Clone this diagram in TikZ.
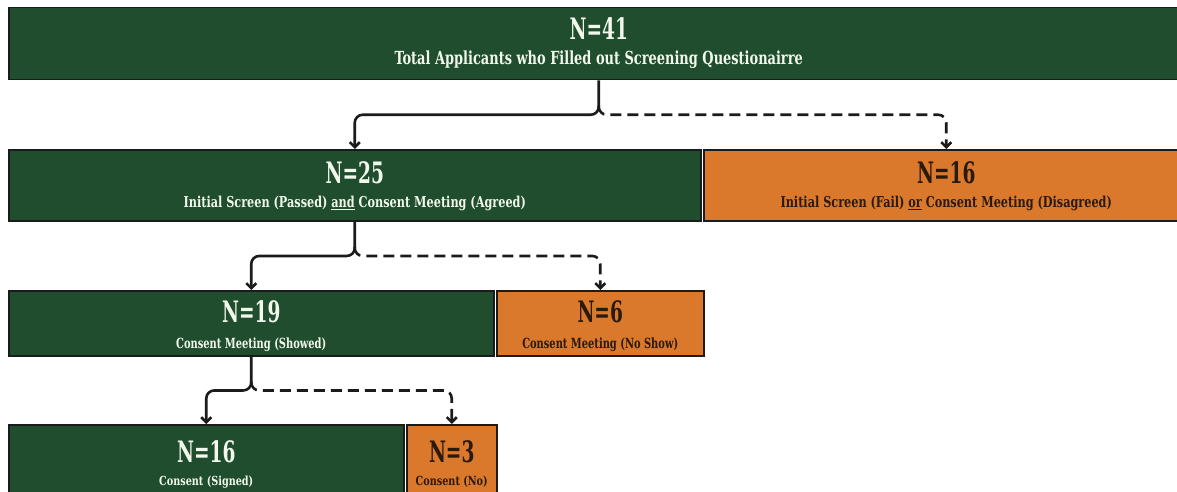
\documentclass[tikz,border=0pt]{standalone}
\usepackage{fontspec}
\setmainfont{DejaVu Serif Condensed}
\usetikzlibrary{arrows.meta,positioning,calc}
\definecolor{forest}{HTML}{1F4D2D}
\definecolor{pumpkin}{HTML}{DA782C}
\definecolor{inkline}{HTML}{1B1B1B}
\definecolor{paletext}{HTML}{F2F8EC}
\definecolor{darktext}{HTML}{2A1A0C}
% count line: #1 = room above the baseline, #2 = count
\newcommand{\bignum}[2]{\vrule height #1 depth 0pt width 0pt{\fontsize{29.5}{32}\selectfont\scalebox{0.7}[1]{#2}}}
% sub line: #1 height, #2 depth, #3 size, #4 squeeze, #5 text
\newcommand{\subtext}[5]{\vrule height #1 depth #2 width 0pt{\fontsize{#3}{#3}\selectfont\scalebox{#4}[1]{#5}}}

\begin{document}
\begin{tikzpicture}[x=1pt,y=-1pt,font=\bfseries,
  pass/.style={draw=inkline,line width=1.5pt,fill=forest,text=paletext,anchor=north west,align=center,inner sep=0pt},
  drop/.style={pass,fill=pumpkin,text=darktext},
  link/.style={-{Straight Barb[length=5pt,width=10pt]},line width=2.6pt,inkline,rounded corners=8pt},
  dlink/.style={link,dash pattern=on 11pt off 6pt}]
\useasboundingbox[fill=white] (0,0) rectangle (1177,492);
% boxes
\node[pass,minimum width=1180pt,minimum height=72pt] (n41) at (8,7)
  {\bignum{32pt}{N=41}\\\subtext{24pt}{15pt}{18}{0.8}{Total Applicants who Filled out Screening Questionairre}};
\node[pass,minimum width=692pt,minimum height=71pt] (n25) at (8,149)
  {\bignum{34pt}{N=25}\\\subtext{22pt}{14pt}{15}{0.835}{Initial Screen (Passed) \underline{and} Consent Meeting (Agreed)}};
\node[drop,minimum width=485pt,minimum height=71pt,right=1.5pt of n25] (n16a)
  {\bignum{34pt}{N=16}\\\subtext{22pt}{14pt}{15}{0.835}{Initial Screen (Fail) \underline{or} Consent Meeting (Disagreed)}};
\node[pass,minimum width=485pt,minimum height=65pt] (n19) at (8,290)
  {\bignum{32pt}{N=19}\\\subtext{24pt}{8pt}{14}{0.785}{Consent Meeting (Showed)}};
\node[drop,minimum width=207pt,minimum height=65pt,right=1.5pt of n19] (n6)
  {\bignum{32pt}{N=6}\\\subtext{24pt}{8pt}{14}{0.785}{Consent Meeting (No Show)}};
\node[pass,minimum width=395pt,minimum height=72pt] (n16b) at (8,424)
  {\bignum{38pt}{N=16}\\\subtext{21pt}{12pt}{12.5}{0.86}{Consent (Signed)}};
\node[drop,minimum width=90pt,minimum height=72pt,right=1.5pt of n16b] (n3)
  {\bignum{38pt}{N=3}\\\subtext{21pt}{12pt}{12.5}{0.86}{Consent (No)}};
% branch points
\coordinate (j1) at ($(n41.south)!.5!(n41.south |- n25.north)$);
\coordinate (j2) at ($(n25.south)!.5!(n25.south |- n19.north)$);
\coordinate (j3) at ($(n19.south)!.5!(n19.south |- n16b.north)$);
% connectors
\draw[link] (n41.south) -- (j1) -| (n25.north);
\draw[dlink] ([yshift=9pt]j1) |- (j1 -| n16a.north) -- (n16a.north);
\draw[link] (n25.south) -- (j2) -| (n19.north);
\draw[dlink] ([yshift=9pt]j2) |- (j2 -| n6.north) -- (n6.north);
\draw[link] (n19.south) -- (j3) -| (n16b.north);
\draw[dlink] ([yshift=9pt]j3) |- (j3 -| n3.north) -- (n3.north);
\end{tikzpicture}
\end{document}
